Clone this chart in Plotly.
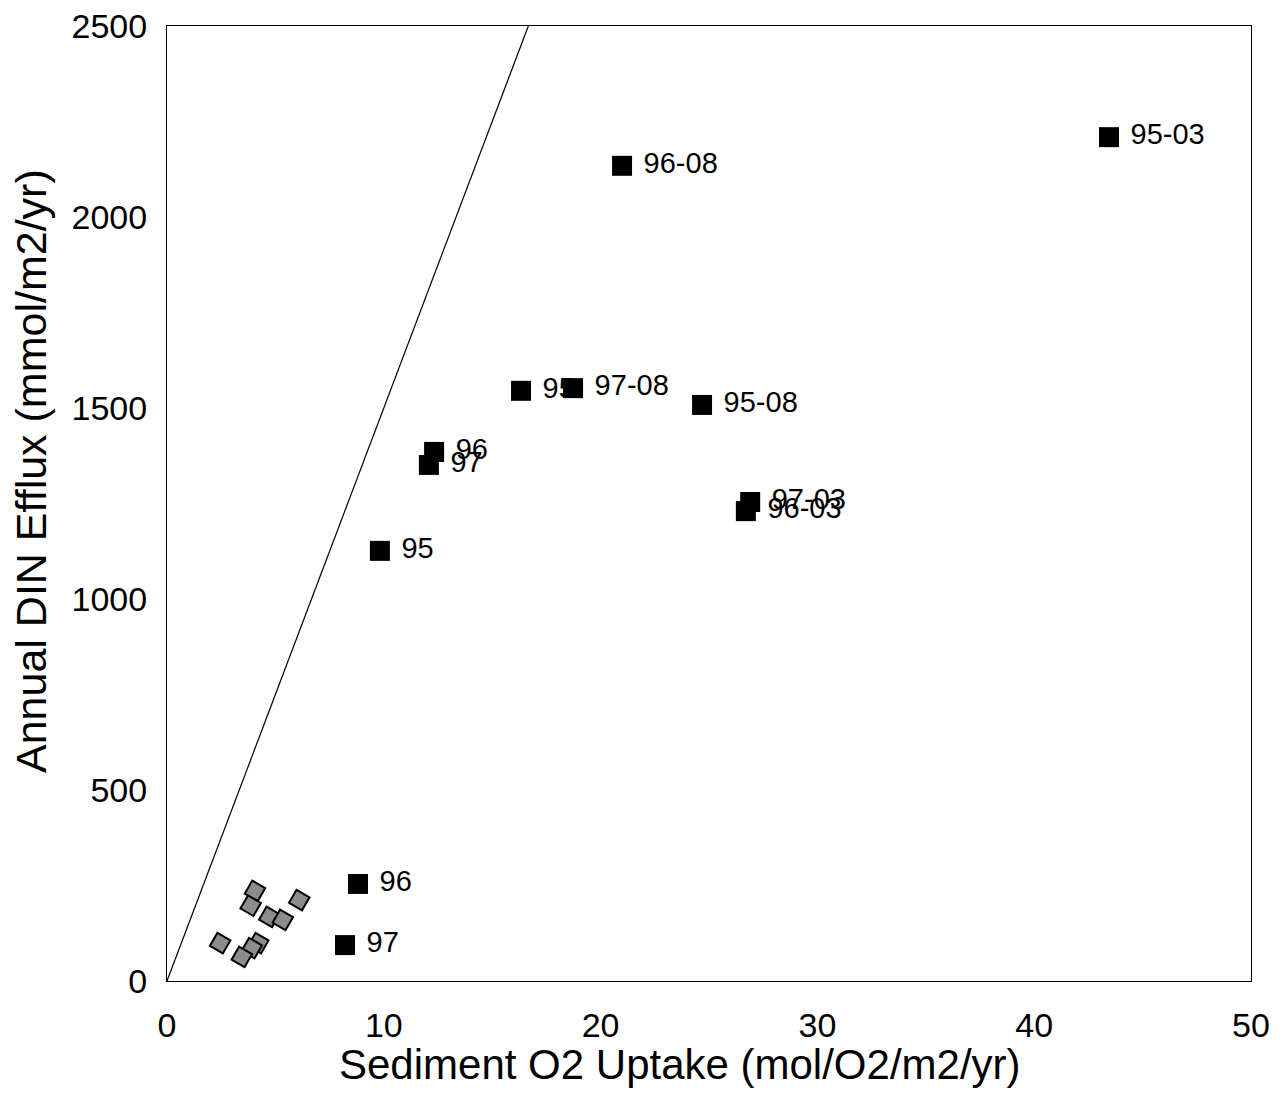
import plotly.graph_objects as go

# Data
sq_labels = ["95-03", "96-08", "95", "97-08", "95-08", "96-03", "97-03", "96", "97", "95", "96", "97"]
sq_x = [43.45, 20.99, 16.33, 18.73, 24.68, 26.7, 26.9, 12.32, 12.08, 9.82, 8.81, 8.21]
sq_y = [2209, 2134, 1545, 1552, 1508, 1230, 1254, 1385, 1351, 1126, 254, 94]

dia_x = [4.06, 3.86, 6.1, 4.72, 5.34, 2.45, 4.21, 3.91, 3.45]
dia_y = [236, 197, 212, 168, 160, 99, 99, 86, 63]

slope = 150  # reference line DIN = slope * O2
y_max = 2500
x_ticks = [0, 10, 20, 30, 40, 50]
y_ticks = [0, 500, 1000, 1500, 2000, 2500]

FONT = "Arial, 'Liberation Sans', Helvetica, sans-serif"

# plot-area geometry in figure pixels (page has an 8px body margin)
L, R, T, B = 159, 1243, 18, 973
W, H = 1283, 1098

fig = go.Figure()

fig.add_trace(go.Scatter(
    x=[0, y_max / slope], y=[0, y_max], mode="lines",
    line=dict(color="black", width=1.2), showlegend=False, hoverinfo="skip"))

fig.add_trace(go.Scatter(
    x=dia_x, y=dia_y, mode="markers",
    marker=dict(symbol="square", angle=30, size=15, color="#8c8c8c",
                line=dict(color="black", width=2)),
    showlegend=False))

for lab, xv, yv in zip(sq_labels, sq_x, sq_y):
    fig.add_trace(go.Scatter(
        x=[xv], y=[yv], mode="markers+text", text=[" " + lab],
        textposition="middle right",
        textfont=dict(family=FONT, size=29, color="black"),
        marker=dict(symbol="square", size=20, color="black"),
        showlegend=False))

fig.update_layout(
    width=W, height=H,
    margin=dict(l=L, r=W - R, t=T, b=H - B, autoexpand=False),
    paper_bgcolor="white", plot_bgcolor="white",
    font=dict(family=FONT, color="black"),
    xaxis=dict(range=[0, 50], tickvals=x_ticks, showgrid=False, zeroline=False,
               showline=True, linecolor="black", linewidth=1, mirror=True,
               ticks="", tickfont=dict(size=34), ticklabelstandoff=14,
               ticklabeloverflow="allow", automargin=False),
    yaxis=dict(range=[0, 2500], tickvals=y_ticks, showgrid=False, zeroline=False,
               showline=True, linecolor="black", linewidth=1, mirror=True,
               ticks="", tickfont=dict(size=34), ticklabelstandoff=12,
               ticklabeloverflow="allow", automargin=False),
    annotations=[
        dict(text="Sediment O2 Uptake (mol/O2/m2/yr)", xref="paper", yref="paper",
             x=(672 - L) / (R - L), y=-(1056 - B) / (B - T),
             xanchor="center", yanchor="middle", showarrow=False,
             font=dict(size=42, family=FONT)),
        dict(text="Annual DIN Efflux (mmol/m2/yr)", xref="paper", yref="paper",
             x=-(L - 23) / (R - L), y=(B - 463) / (B - T),
             xanchor="center", yanchor="middle", showarrow=False, textangle=-90,
             font=dict(size=43, family=FONT)),
    ],
)

fig.write_html("out.html")
